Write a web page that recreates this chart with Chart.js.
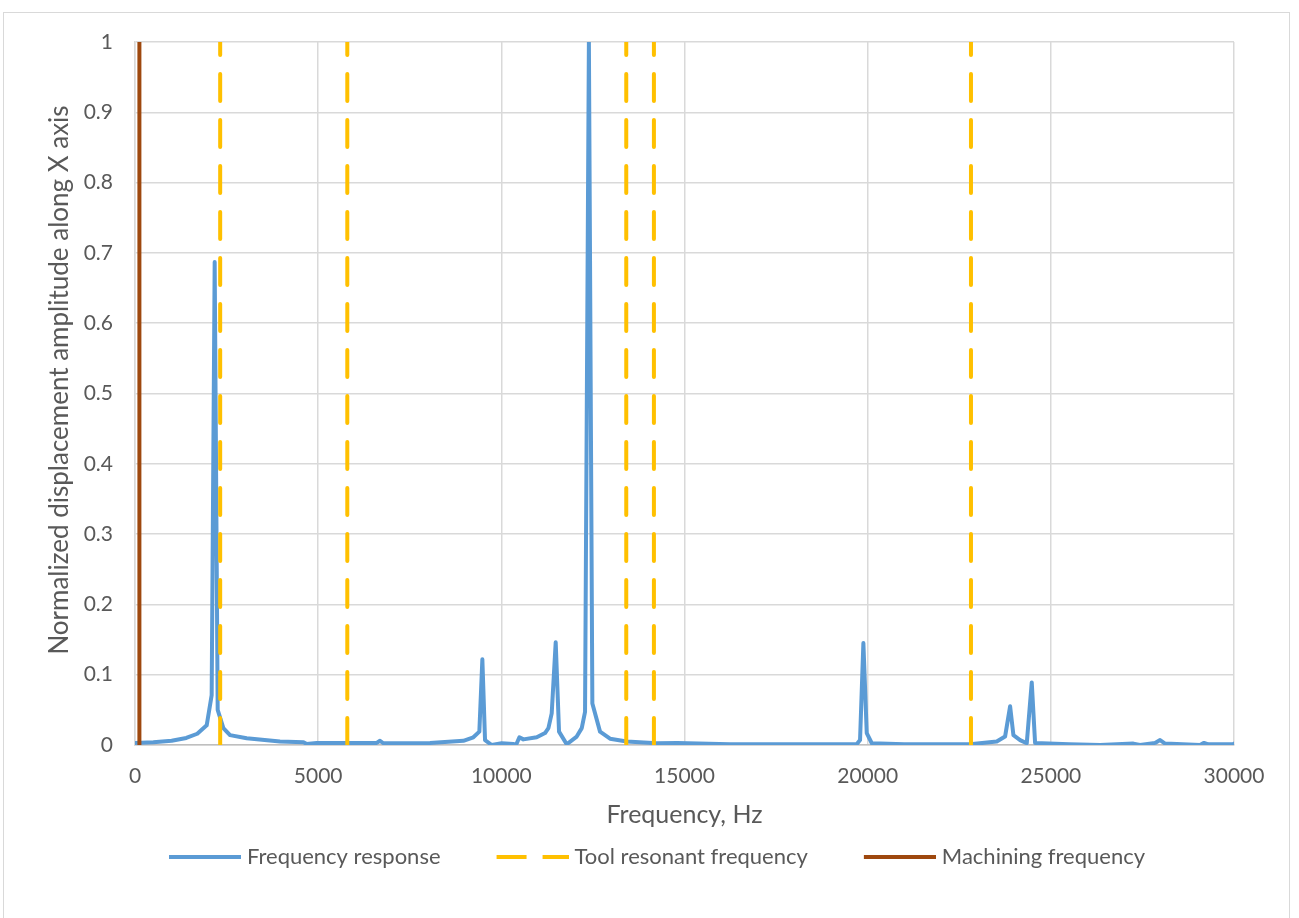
<!DOCTYPE html>
<html>
<head>
<meta charset="utf-8">
<script src="https://cdn.jsdelivr.net/npm/chart.js@4.4.1/dist/chart.umd.min.js"></script>
<style>
  html, body { margin: 0; padding: 0; background: #ffffff; }
  #wrap { position: relative; width: 1299px; height: 918px; }
  canvas { display: block; }
</style>
</head>
<body>
<div id="wrap"><canvas id="c" width="1299" height="918"></canvas></div>
<script>
// ---- data ----
const responseHz = [0, 500, 1000, 1400, 1700, 1957, 2093, 2175, 2257, 2412, 2594, 3049, 3958, 4600, 4687, 4960, 6598, 6688, 6780, 8053, 8963, 9236, 9400, 9482, 9555, 9737, 10010, 10327, 10401, 10493, 10602, 10966, 11193, 11285, 11375, 11484, 11575, 11785, 12058, 12195, 12285, 12390, 12485, 12694, 12967, 13423, 14242, 14800, 16244, 18000, 19700, 19792, 19883, 19975, 20112, 21000, 22795, 23524, 23751, 23888, 23979, 24161, 24343, 24479, 24570, 25500, 26344, 27253, 27435, 27845, 27982, 28118, 29073, 29182, 29300, 29974, 30000];
const responseAmp = [0.003, 0.004, 0.006, 0.010, 0.016, 0.028, 0.071, 0.687, 0.05, 0.024, 0.014, 0.0095, 0.005, 0.004, 0.0015, 0.003, 0.003, 0.006, 0.0025, 0.003, 0.006, 0.011, 0.019, 0.122, 0.007, 0.0, 0.0025, 0.0015, 0.0, 0.011, 0.008, 0.011, 0.017, 0.024, 0.045, 0.146, 0.019, 0.001, 0.012, 0.024, 0.047, 1.0, 0.059, 0.019, 0.009, 0.005, 0.0025, 0.003, 0.001, 0.001, 0.001, 0.007, 0.145, 0.017, 0.0025, 0.001, 0.001, 0.005, 0.012, 0.055, 0.014, 0.007, 0.0025, 0.089, 0.003, 0.001, 0.0, 0.002, 0.0, 0.003, 0.007, 0.002, 0.0, 0.003, 0.001, 0.001, 0.002];
const toolResonantHz = [2325, 5795, 13410, 14165, 22820];
const machiningHz = [120];
const lineLimits = [0, 1];
const seriesNames = ["Frequency response", "Tool resonant frequency", "Machining frequency"];
const xTitle = "Frequency, Hz";
const yTitle = "Normalized displacement amplitude along X axis";
const xTicks = { min: 0, max: 30000, step: 5000 };
const yTicks = { min: 0, max: 1, step: 0.1 };

// ---- build library structures ----
function verticalLines(freqs) {
  const pts = [];
  freqs.forEach((f, i) => {
    pts.push({ x: f, y: lineLimits[0] });
    pts.push({ x: f, y: lineLimits[1] });
    if (i < freqs.length - 1) pts.push({ x: f, y: null });
  });
  return pts;
}
const responsePts = responseHz.map((f, i) => ({ x: f, y: responseAmp[i] }));

const TEXT = '#595959';
const FONT = 'Lato';
const COLORS = ['#5B9BD5', '#FFC000', '#9E480E'];
const DASHES = [[], [30, 16], []];

// legend sample images (line drawn at the right end of a wider, transparent box)
const LEG_W = 113;      // pointStyleWidth
const SAMPLE_LEN = 72;
function sampleImage(color, dash) {
  const c = document.createElement('canvas');
  c.width = LEG_W + 10;
  c.height = 6;
  const g = c.getContext('2d');
  g.strokeStyle = color;
  g.lineWidth = 4;
  g.lineCap = 'butt';
  g.setLineDash(dash);
  g.beginPath();
  g.moveTo(c.width - SAMPLE_LEN, 3);
  g.lineTo(c.width, 3);
  g.stroke();
  return c;
}
const legendImages = COLORS.map((c, i) => sampleImage(c, DASHES[i]));

const frame = {
  id: 'frame',
  beforeDraw(chart) {
    const ctx = chart.ctx;
    ctx.save();
    ctx.fillStyle = '#ffffff';
    ctx.fillRect(0, 0, chart.width, chart.height);
    ctx.strokeStyle = '#d9d9d9';
    ctx.lineWidth = 1;
    ctx.strokeRect(3.5, 12.5, 1286, 1000);
    ctx.restore();
  },
  afterDraw(chart) {
    const ctx = chart.ctx;
    ctx.save();
    ctx.translate(60, 380);
    ctx.rotate(-Math.PI / 2);
    ctx.font = '26px ' + FONT;
    ctx.fillStyle = TEXT;
    ctx.textAlign = 'center';
    ctx.textBaseline = 'middle';
    ctx.fillText(yTitle, 0, 0);
    ctx.restore();
  }
};

new Chart(document.getElementById('c'), {
  type: 'scatter',
  data: {
    datasets: [
      {
        label: seriesNames[0],
        data: responsePts,
        showLine: true,
        borderColor: COLORS[0],
        backgroundColor: COLORS[0],
        borderWidth: 4,
        pointRadius: 0,
        tension: 0,
        borderJoinStyle: 'round',
        borderCapStyle: 'round',
        order: 3
      },
      {
        label: seriesNames[1],
        data: verticalLines(toolResonantHz),
        showLine: true,
        spanGaps: false,
        borderColor: COLORS[1],
        backgroundColor: COLORS[1],
        borderWidth: 4,
        borderDash: [27, 19],
        borderCapStyle: 'round',
        pointRadius: 0,
        order: 2
      },
      {
        label: seriesNames[2],
        data: verticalLines(machiningHz),
        showLine: true,
        borderColor: COLORS[2],
        backgroundColor: COLORS[2],
        borderWidth: 4,
        pointRadius: 0,
        order: 1
      }
    ]
  },
  options: {
    responsive: false,
    animation: false,
    layout: { padding: { top: 42, right: 65, bottom: 40, left: 34 } },
    plugins: {
      tooltip: { enabled: false },
      legend: {
        position: 'bottom',
        labels: {
          usePointStyle: true,
          pointStyleWidth: LEG_W,
          padding: 10,
          color: TEXT,
          font: { family: FONT, size: 22 },
          generateLabels(chart) {
            const items = Chart.defaults.plugins.legend.labels.generateLabels(chart);
            items.sort((a, b) => a.datasetIndex - b.datasetIndex);
            items.forEach(it => { it.pointStyle = legendImages[it.datasetIndex]; });
            return items;
          }
        }
      }
    },
    scales: {
      x: {
        type: 'linear',
        min: xTicks.min, max: xTicks.max,
        ticks: { stepSize: xTicks.step, color: TEXT, font: { family: FONT, size: 21 }, padding: 19, maxRotation: 0,
                 callback: v => String(v) },
        grid: { color: '#d9d9d9', lineWidth: 1.5, drawTicks: false },
        border: { color: '#bfbfbf', width: 1.5 },
        title: { display: true, text: xTitle, color: TEXT, font: { family: FONT, size: 25 }, padding: { top: 4, bottom: 6 } },
        afterFit(s) { s.height = 91; }
      },
      y: {
        type: 'linear',
        min: yTicks.min, max: yTicks.max,
        ticks: { stepSize: yTicks.step, color: TEXT, font: { family: FONT, size: 21 }, padding: 22,
                 callback: v => String(Math.round(v * 10) / 10) },
        grid: { color: '#d9d9d9', lineWidth: 1.5, drawTicks: false },
        border: { color: '#d9d9d9', width: 1.5 },
        afterFit(s) { s.width = 101; }
      }
    }
  },
  plugins: [frame]
});
</script>
</body>
</html>
